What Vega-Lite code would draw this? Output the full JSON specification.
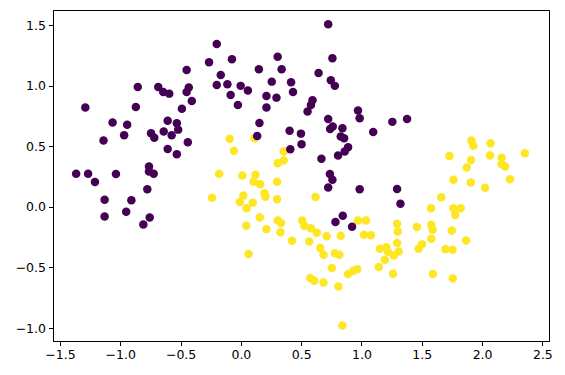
{
  "$schema": "https://vega.github.io/schema/vega-lite/v6.json",
  "width": 496,
  "height": 331,
  "autosize": "none",
  "padding": {"left": 53, "top": 10, "right": 16, "bottom": 34},
  "background": "white",
  "config": {
    "view": {"stroke": "black", "strokeWidth": 1},
    "axis": {
      "domainColor": "black", "tickColor": "black", "labelColor": "black",
      "labelFont": "DejaVu Sans", "labelFontSize": 12.5, "tickSize": 4.5,
      "grid": false, "title": null, "labelPadding": 3, "domainWidth": 1, "tickWidth": 1
    }
  },
  "data": {
    "values": [
      {"x": -0.180, "y": 0.272, "c": 1}, {"x": -0.239, "y": 0.074, "c": 1}, {"x": 0.113, "y": 0.566, "c": 1},
      {"x": -0.093, "y": 0.561, "c": 1}, {"x": -0.058, "y": 0.462, "c": 1}, {"x": 0.355, "y": 0.456, "c": 1},
      {"x": 0.355, "y": 0.382, "c": 1}, {"x": 0.305, "y": 0.360, "c": 1}, {"x": 0.012, "y": 0.258, "c": 1},
      {"x": 0.121, "y": 0.264, "c": 1}, {"x": 0.105, "y": 0.206, "c": 1}, {"x": 0.160, "y": 0.187, "c": 1},
      {"x": 0.300, "y": 0.206, "c": 1}, {"x": 0.020, "y": 0.093, "c": 1}, {"x": -0.008, "y": 0.039, "c": 1},
      {"x": 0.047, "y": -0.011, "c": 1}, {"x": 0.099, "y": 0.033, "c": 1}, {"x": 0.196, "y": 0.112, "c": 1},
      {"x": 0.204, "y": 0.083, "c": 1}, {"x": 0.300, "y": 0.063, "c": 1}, {"x": 0.619, "y": 0.082, "c": 1},
      {"x": 0.157, "y": -0.088, "c": 1}, {"x": 0.045, "y": -0.157, "c": 1}, {"x": 0.212, "y": -0.184, "c": 1},
      {"x": 0.305, "y": -0.113, "c": 1}, {"x": 0.333, "y": -0.134, "c": 1}, {"x": 0.328, "y": -0.210, "c": 1},
      {"x": 0.509, "y": -0.113, "c": 1}, {"x": 0.526, "y": -0.157, "c": 1}, {"x": 0.581, "y": -0.176, "c": 1},
      {"x": 0.630, "y": -0.214, "c": 1}, {"x": 0.711, "y": -0.243, "c": 1}, {"x": 0.828, "y": -0.239, "c": 1},
      {"x": 0.971, "y": -0.113, "c": 1}, {"x": 1.037, "y": -0.113, "c": 1}, {"x": 1.021, "y": -0.231, "c": 1},
      {"x": 1.078, "y": -0.235, "c": 1}, {"x": 0.064, "y": -0.390, "c": 1}, {"x": 0.424, "y": -0.280, "c": 1},
      {"x": 0.567, "y": -0.286, "c": 1}, {"x": 0.658, "y": -0.340, "c": 1}, {"x": 0.685, "y": -0.396, "c": 1},
      {"x": 0.779, "y": -0.382, "c": 1}, {"x": 0.817, "y": -0.396, "c": 1}, {"x": 0.754, "y": -0.505, "c": 1},
      {"x": 0.575, "y": -0.588, "c": 1}, {"x": 0.608, "y": -0.610, "c": 1}, {"x": 0.685, "y": -0.624, "c": 1},
      {"x": 0.809, "y": -0.657, "c": 1}, {"x": 0.842, "y": -0.979, "c": 1}, {"x": 0.889, "y": -0.555, "c": 1},
      {"x": 0.932, "y": -0.528, "c": 1}, {"x": 0.965, "y": -0.514, "c": 1}, {"x": 1.153, "y": -0.346, "c": 1},
      {"x": 1.206, "y": -0.334, "c": 1}, {"x": 1.219, "y": -0.371, "c": 1}, {"x": 1.194, "y": -0.437, "c": 1},
      {"x": 1.144, "y": -0.497, "c": 1}, {"x": 1.295, "y": -0.299, "c": 1}, {"x": 1.309, "y": -0.369, "c": 1},
      {"x": 1.268, "y": -0.401, "c": 1}, {"x": 1.262, "y": -0.552, "c": 1}, {"x": 1.474, "y": -0.346, "c": 1},
      {"x": 1.502, "y": -0.308, "c": 1}, {"x": 1.579, "y": -0.264, "c": 1}, {"x": 1.697, "y": -0.349, "c": 1},
      {"x": 1.755, "y": -0.354, "c": 1}, {"x": 1.868, "y": -0.278, "c": 1}, {"x": 1.592, "y": -0.555, "c": 1},
      {"x": 1.757, "y": -0.591, "c": 1}, {"x": 1.912, "y": 0.547, "c": 1}, {"x": 1.928, "y": 0.503, "c": 1},
      {"x": 2.071, "y": 0.525, "c": 1}, {"x": 1.730, "y": 0.420, "c": 1}, {"x": 1.909, "y": 0.387, "c": 1},
      {"x": 1.873, "y": 0.324, "c": 1}, {"x": 2.066, "y": 0.423, "c": 1}, {"x": 2.162, "y": 0.406, "c": 1},
      {"x": 2.162, "y": 0.354, "c": 1}, {"x": 2.192, "y": 0.332, "c": 1}, {"x": 2.355, "y": 0.443, "c": 1},
      {"x": 1.763, "y": 0.223, "c": 1}, {"x": 1.906, "y": 0.200, "c": 1}, {"x": 2.025, "y": 0.157, "c": 1},
      {"x": 2.231, "y": 0.228, "c": 1}, {"x": 1.662, "y": 0.080, "c": 1}, {"x": 1.576, "y": -0.011, "c": 1},
      {"x": 1.763, "y": -0.011, "c": 1}, {"x": 1.823, "y": -0.011, "c": 1}, {"x": 1.777, "y": -0.068, "c": 1},
      {"x": 1.295, "y": -0.140, "c": 1}, {"x": 1.301, "y": -0.204, "c": 1}, {"x": 1.460, "y": -0.167, "c": 1},
      {"x": 1.579, "y": -0.148, "c": 1}, {"x": 1.590, "y": -0.190, "c": 1}, {"x": 1.749, "y": -0.195, "c": 1},

      {"x": -1.290, "y": 0.819, "c": 0}, {"x": -0.855, "y": 0.989, "c": 0}, {"x": -0.871, "y": 0.824, "c": 0},
      {"x": -0.685, "y": 0.989, "c": 0}, {"x": -0.644, "y": 0.948, "c": 0}, {"x": -0.594, "y": 0.934, "c": 0},
      {"x": -0.450, "y": 1.129, "c": 0}, {"x": -0.432, "y": 0.984, "c": 0}, {"x": -0.450, "y": 0.948, "c": 0},
      {"x": -0.407, "y": 0.874, "c": 0}, {"x": -0.489, "y": 0.810, "c": 0}, {"x": -0.200, "y": 1.344, "c": 0},
      {"x": -0.264, "y": 1.193, "c": 0}, {"x": -0.200, "y": 1.006, "c": 0}, {"x": -0.167, "y": 1.088, "c": 0},
      {"x": -0.074, "y": 1.218, "c": 0}, {"x": -0.112, "y": 1.012, "c": 0}, {"x": -0.002, "y": 0.998, "c": 0},
      {"x": 0.058, "y": 0.959, "c": 0}, {"x": -0.085, "y": 0.923, "c": 0}, {"x": -0.025, "y": 0.841, "c": 0},
      {"x": 0.149, "y": 1.135, "c": 0}, {"x": 0.305, "y": 1.239, "c": 0}, {"x": 0.338, "y": 1.135, "c": 0},
      {"x": 0.256, "y": 1.033, "c": 0}, {"x": 0.212, "y": 0.915, "c": 0}, {"x": 0.295, "y": 0.901, "c": 0},
      {"x": 0.212, "y": 0.819, "c": 0}, {"x": 0.416, "y": 1.028, "c": 0}, {"x": 0.432, "y": 0.948, "c": 0},
      {"x": 0.644, "y": 1.105, "c": 0}, {"x": 0.724, "y": 1.506, "c": 0}, {"x": 0.759, "y": 1.226, "c": 0},
      {"x": 0.746, "y": 1.045, "c": 0}, {"x": 0.779, "y": 0.998, "c": 0}, {"x": 0.594, "y": 0.880, "c": 0},
      {"x": 0.581, "y": 0.841, "c": 0}, {"x": 0.553, "y": 0.786, "c": 0}, {"x": 0.724, "y": 0.725, "c": 0},
      {"x": 0.971, "y": 0.794, "c": 0}, {"x": 0.985, "y": 0.730, "c": 0}, {"x": 0.154, "y": 0.692, "c": 0},
      {"x": 1.256, "y": 0.701, "c": 0}, {"x": 1.378, "y": 0.725, "c": 0}, {"x": -1.064, "y": 0.695, "c": 0},
      {"x": -0.943, "y": 0.678, "c": 0}, {"x": -0.968, "y": 0.591, "c": 0}, {"x": -1.139, "y": 0.547, "c": 0},
      {"x": -0.745, "y": 0.608, "c": 0}, {"x": -0.718, "y": 0.569, "c": 0}, {"x": -0.640, "y": 0.621, "c": 0},
      {"x": -0.607, "y": 0.711, "c": 0}, {"x": -0.531, "y": 0.690, "c": 0}, {"x": -0.520, "y": 0.637, "c": 0},
      {"x": -0.574, "y": 0.591, "c": 0}, {"x": -0.440, "y": 0.533, "c": 0}, {"x": -0.607, "y": 0.478, "c": 0},
      {"x": -0.531, "y": 0.434, "c": 0}, {"x": -1.366, "y": 0.272, "c": 0}, {"x": -1.267, "y": 0.272, "c": 0},
      {"x": -1.210, "y": 0.204, "c": 0}, {"x": -1.036, "y": 0.270, "c": 0}, {"x": -0.762, "y": 0.332, "c": 0},
      {"x": -0.762, "y": 0.291, "c": 0}, {"x": -0.723, "y": 0.272, "c": 0}, {"x": -0.776, "y": 0.146, "c": 0},
      {"x": -1.130, "y": 0.058, "c": 0}, {"x": -0.908, "y": 0.055, "c": 0}, {"x": -1.130, "y": -0.080, "c": 0},
      {"x": -0.951, "y": -0.041, "c": 0}, {"x": -0.756, "y": -0.088, "c": 0}, {"x": -0.809, "y": -0.146, "c": 0},
      {"x": 0.135, "y": 0.585, "c": 0}, {"x": 0.404, "y": 0.627, "c": 0}, {"x": 0.498, "y": 0.604, "c": 0},
      {"x": 0.503, "y": 0.517, "c": 0}, {"x": 0.410, "y": 0.476, "c": 0}, {"x": 0.740, "y": 0.643, "c": 0},
      {"x": 0.762, "y": 0.662, "c": 0}, {"x": 0.842, "y": 0.649, "c": 0}, {"x": 1.097, "y": 0.618, "c": 0},
      {"x": 0.828, "y": 0.580, "c": 0}, {"x": 0.856, "y": 0.566, "c": 0}, {"x": 0.889, "y": 0.492, "c": 0},
      {"x": 0.861, "y": 0.456, "c": 0}, {"x": 0.806, "y": 0.423, "c": 0}, {"x": 0.668, "y": 0.396, "c": 0},
      {"x": 0.738, "y": 0.270, "c": 0}, {"x": 0.759, "y": 0.223, "c": 0}, {"x": 0.724, "y": 0.159, "c": 0},
      {"x": 0.985, "y": 0.146, "c": 0}, {"x": 0.845, "y": -0.074, "c": 0}, {"x": 0.784, "y": -0.126, "c": 0},
      {"x": 0.922, "y": -0.165, "c": 0}, {"x": 1.295, "y": 0.148, "c": 0}, {"x": 1.323, "y": 0.025, "c": 0}
    ]
  },
  "mark": {"type": "circle", "size": 72, "opacity": 1, "clip": true},
  "encoding": {
    "x": {
      "field": "x", "type": "quantitative",
      "scale": {"domain": [-1.558, 2.555], "nice": false, "zero": false},
      "axis": {"values": [-1.5, -1.0, -0.5, 0.0, 0.5, 1.0, 1.5, 2.0, 2.5], "format": ".1f", "labelExpr": "replace(datum.label, '-', '−')", "labelFlush": false}
    },
    "y": {
      "field": "y", "type": "quantitative",
      "scale": {"domain": [-1.107, 1.624], "nice": false, "zero": false},
      "axis": {"values": [-1.0, -0.5, 0.0, 0.5, 1.0, 1.5], "format": ".1f", "labelExpr": "replace(datum.label, '-', '−')", "labelFlush": false}
    },
    "color": {
      "field": "c", "type": "nominal",
      "scale": {"domain": [0, 1], "range": ["#440154", "#fde725"]},
      "legend": null
    }
  }
}
